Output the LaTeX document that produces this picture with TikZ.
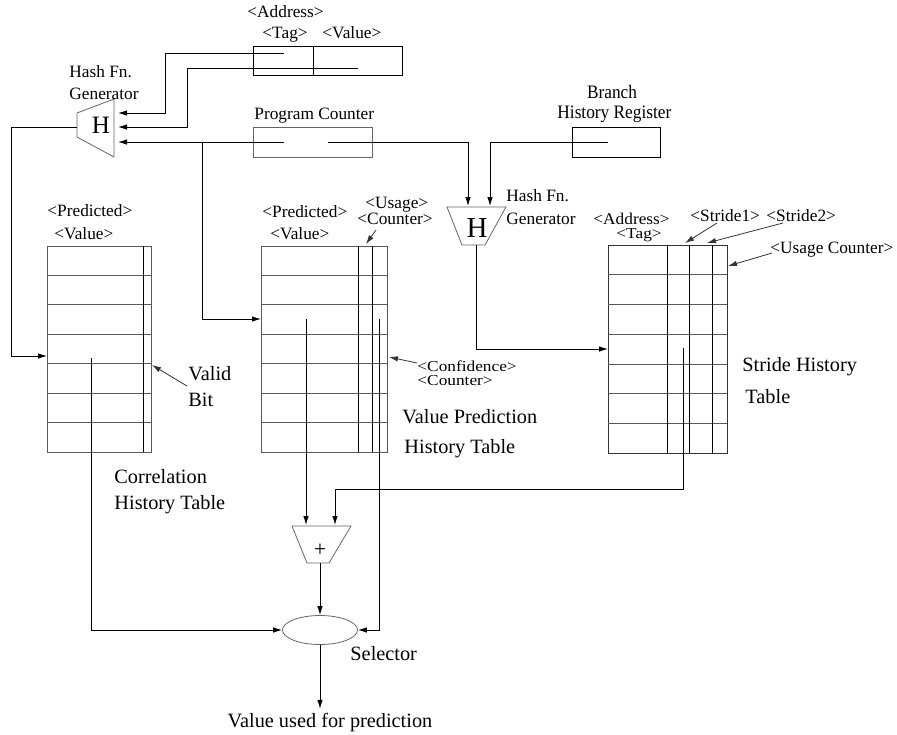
\documentclass[tikz,border=0pt]{standalone}
\usepackage{fontspec}
\setmainfont{Liberation Serif}
\usetikzlibrary{arrows.meta,shapes.geometric,calc}
\begin{document}
\begin{tikzpicture}[x=1pt,y=-1pt,line width=0.9pt,
  sm/.style={font=\fontsize{17.3}{19}\selectfont,inner sep=0pt,anchor=base west},
  lg/.style={font=\fontsize{20.3}{23}\selectfont,inner sep=0pt,anchor=base west},
  conn/.style={draw=black,-{Latex[length=9pt,width=5.5pt]}},
  ptr/.style={draw=black!80,line width=0.8pt,-{Latex[length=9pt,width=5.5pt]}},
  tline/.style={draw=black!65,line width=0.8pt},
  box/.style={draw,rectangle,inner sep=0pt},
  unit/.style={draw=black!60,line width=0.8pt}]
\useasboundingbox (0,0) rectangle (897,734);

% ---------- registers ----------
\node[box,minimum width=149pt,minimum height=29pt] (addr) at (327.5,60.5) {};
\draw (313,46) -- (313,75);
\node[box,draw=black!60,minimum width=119pt,minimum height=30pt] (pc) at (312.5,142) {};
\node[box,minimum width=88pt,minimum height=30pt] (bhr) at (616,142) {};

% ---------- tables ----------
\node[box,draw=black!65,line width=0.8pt,minimum width=104pt,minimum height=206pt] (cht) at (99,349) {};
\node[box,draw=black!65,line width=0.8pt,minimum width=126pt,minimum height=206pt] (vpht) at (324,349) {};
\node[box,draw=black!80,line width=0.8pt,minimum width=119pt,minimum height=208pt] (sht) at (667.5,349) {};
\foreach \t in {cht,vpht,sht}
  \foreach \i in {1,...,6}
    \draw[tline] ($(\t.north west)!\i/7!(\t.south west)$) -- ($(\t.north east)!\i/7!(\t.south east)$);
\draw[tline,draw=black] (143,246) -- (143,452);
\draw[tline,draw=black] (358,246) -- (358,452);
\draw[tline,draw=black] (372,246) -- (372,452);
\draw[tline,draw=black] (667,245) -- (667,453);
\draw[tline,draw=black] (689,245) -- (689,453);
\draw[tline,draw=black] (712,245) -- (712,453);

% ---------- hash units, adder, selector ----------
\draw[unit] (114,99) -- (114,157) -- (77,137) -- (77,113) -- cycle;
\node[font=\fontsize{25}{27}\selectfont,inner sep=0pt] (h1) at (101,125) {H};
\draw[unit] (447,207) -- (506,207) -- (485,245) -- (462,245) -- cycle;
\node[font=\fontsize{29}{31}\selectfont,inner sep=0pt] (h2) at (477,228) {H};
\draw[unit] (292,526) -- (351,526) -- (329,563) -- (307,563) -- cycle;
\node[font=\fontsize{22}{24}\selectfont,inner sep=0pt] (plus) at (320,550) {+};
\node[draw=black!60,line width=0.8pt,ellipse,minimum width=75pt,minimum height=29pt,inner sep=0pt] (sel) at (320,630) {};

% ---------- ports ----------
\coordinate (tagout) at (284,53);
\coordinate (valout) at (358,68);
\coordinate (h1in1) at (118,113);
\coordinate (h1in2) at (118,127);
\coordinate (h1in3) at (118,142);
\coordinate (h1out) at (77,127);
\coordinate (pcL) at (284,142);
\coordinate (pcR) at (328,142);
\coordinate (pcbr) at (202,142);
\coordinate (bhrout) at (608,142);
\coordinate (h2in1) at (468,206);
\coordinate (h2in2) at (490,206);
\coordinate (h2out) at (476,245);
\coordinate (chtin) at (47,356);
\coordinate (vptin) at (261,319);
\coordinate (shtin) at (608,349);
\coordinate (chtval) at (91,358);
\coordinate (vpval) at (306,319);
\coordinate (vpconf) at (379,319);
\coordinate (shtval) at (683,348);
\coordinate (addin1) at (306,525);
\coordinate (addin2) at (335,525);
\coordinate (addout) at (320,563);

% ---------- connectors ----------
\draw[conn] (tagout) -| ($(h1in1)+(47,0)$) -- (h1in1);
\draw[conn] (valout) -| ($(h1in2)+(69,0)$) -- (h1in2);
\draw[conn] (pcL) -- (h1in3);
\draw[conn] (pcbr) |- (vptin);
\draw[conn] (pcR) -| (h2in1);
\draw[conn] (bhrout) -| (h2in2);
\draw[conn] (h1out) -- ($(h1out)+(-66,0)$) |- (chtin);
\draw[conn] (h2out) |- (shtin);
\draw[conn] (chtval) |- (sel.west);
\draw[conn] (vpval) -- (addin1);
\draw[conn] (vpconf) |- (sel.east);
\draw[conn] (shtval) |- ($(addin2)+(0,-36)$) -- (addin2);
\draw[conn] (addout) -- (sel.north);
\node[lg,anchor=base] (result) at (330,727) {Value used for prediction};
\draw[conn] (sel.south) -- ($(sel.south)+(0,64)$);

% ---------- pointer labels ----------
\draw[ptr] (376,230) -- (366,244);
\draw[ptr] (187,386) -- (152,365);
\draw[ptr] (417,363) -- (389,357);
\draw[ptr] (717,223) -- (685,243);
\draw[ptr] (783,223) -- (707,243);
\draw[ptr] (772,253) -- (728,266);

% ---------- texts ----------
\node[sm] (tAddr) at (247,17) {<Address>};
\node[sm] (tTag) at (262,38.5) {<Tag>};
\node[sm] (tVal) at (322,38.5) {<Value>};
\node[sm] (hf1a) at (69,77) {Hash Fn.};
\node[sm] (hf1b) at (69,99) {Generator};
\node[sm] (tPC) at (254,119) {Program Counter};
\node[sm,anchor=base] (tBr) at (612,98) {\scalebox{1}[1.1]{Branch}};
\node[sm] (tBHR) at (557,118) {\scalebox{1}[1.1]{History Register}};
\node[sm] (hf2a) at (506,201.5) {Hash Fn.};
\node[sm] (hf2b) at (506,224) {Generator};

\node[sm] (cP) at (47,216.5) {<Predicted>};
\node[sm] (cV) at (54,239) {<Value>};
\node[sm] (vP) at (262,217) {<Predicted>};
\node[sm] (vV) at (270,239) {<Value>};
\node[sm] (vU) at (365,208) {<Usage>};
\node[sm] (vC) at (357,224.5) {<Counter>};
\node[sm] (sA) at (593,224) {\scalebox{1}[0.95]{<Address>}};
\node[sm] (sT) at (616,238.5) {\scalebox{1}[0.88]{<Tag>}};
\node[sm] (s1) at (690,221) {<Stride1>};
\node[sm] (s2) at (766,221) {<Stride2>};
\node[sm] (sU) at (770,253) {<Usage Counter>};

\node[lg] (valid) at (188,380) {Valid};
\node[lg] (bit) at (188,406) {Bit};
\node[sm] (conf) at (417,371) {\scalebox{1}[0.88]{<Confidence>}};
\node[sm] (confc) at (417,385) {\scalebox{1}[0.88]{<Counter>}};
\node[lg] (vpa) at (402,423) {Value Prediction};
\node[lg] (vpb) at (404,453) {History Table};
\node[lg] (sha) at (742,371.5) {Stride History};
\node[lg] (shb) at (745,403) {Table};
\node[lg] (cha) at (114,483) {Correlation};
\node[lg] (chb) at (114,509) {History Table};
\node[lg] (tsel) at (350,660) {Selector};
\end{tikzpicture}
\end{document}
